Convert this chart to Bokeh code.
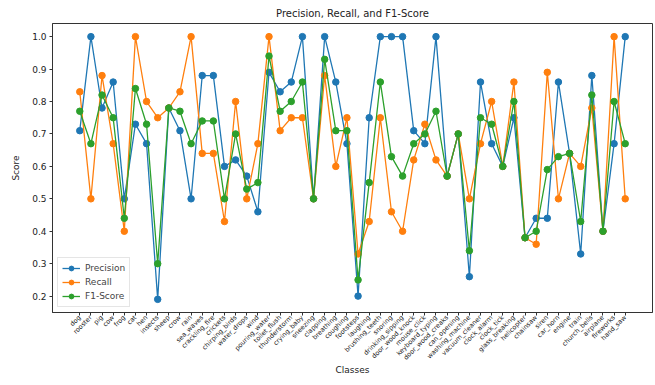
from bokeh.plotting import figure
from bokeh.models import FixedTicker, PrintfTickFormatter, Range1d, Legend, LegendItem
from bokeh.embed import file_html
from bokeh.resources import INLINE
import math

classes = ["dog", "rooster", "pig", "cow", "frog", "cat", "hen", "insects", "sheep", "crow",
           "rain", "sea_waves", "crackling_fire", "crickets", "chirping_birds", "water_drops", "wind",
           "pouring_water", "toilet_flush", "thunderstorm", "crying_baby", "sneezing", "clapping",
           "breathing", "coughing", "footsteps", "laughing", "brushing_teeth", "snoring",
           "drinking_sipping", "door_wood_knock", "mouse_click", "keyboard_typing", "door_wood_creaks",
           "can_opening", "washing_machine", "vacuum_cleaner", "clock_alarm", "clock_tick",
           "glass_breaking", "helicopter", "chainsaw", "siren", "car_horn", "engine", "train",
           "church_bells", "airplane", "fireworks", "hand_saw"]

precision = [0.71, 1.00, 0.78, 0.86, 0.50, 0.73, 0.67, 0.19, 0.78, 0.71,
             0.50, 0.88, 0.88, 0.60, 0.62, 0.57, 0.46, 0.89, 0.83, 0.86,
             1.00, 0.50, 1.00, 0.86, 0.67, 0.20, 0.75, 1.00, 1.00, 1.00,
             0.71, 0.67, 1.00, 0.57, 0.70, 0.26, 0.86, 0.67, 0.60, 0.75,
             0.38, 0.44, 0.44, 0.86, 0.64, 0.33, 0.88, 0.40, 0.67, 1.00]

recall = [0.83, 0.50, 0.88, 0.67, 0.40, 1.00, 0.80, 0.75, 0.78, 0.83,
          1.00, 0.64, 0.64, 0.43, 0.80, 0.50, 0.67, 1.00, 0.71, 0.75,
          0.75, 0.50, 0.88, 0.60, 0.75, 0.33, 0.43, 0.75, 0.46, 0.40,
          0.62, 0.73, 0.62, 0.57, 0.70, 0.50, 0.67, 0.80, 0.60, 0.86,
          0.38, 0.36, 0.89, 0.50, 0.64, 0.60, 0.78, 0.40, 1.00, 0.50]

f1 = [0.77, 0.67, 0.82, 0.75, 0.44, 0.84, 0.73, 0.30, 0.78, 0.77,
      0.67, 0.74, 0.74, 0.50, 0.70, 0.53, 0.55, 0.94, 0.77, 0.80,
      0.86, 0.50, 0.93, 0.71, 0.71, 0.25, 0.55, 0.86, 0.63, 0.57,
      0.67, 0.70, 0.77, 0.57, 0.70, 0.34, 0.75, 0.73, 0.60, 0.80,
      0.38, 0.40, 0.59, 0.63, 0.64, 0.43, 0.82, 0.40, 0.80, 0.67]

y_ticks = [0.2, 0.3, 0.4, 0.5, 0.6, 0.7, 0.8, 0.9, 1.0]

series = [("Precision", precision, "#1f77b4"),
          ("Recall", recall, "#ff7f0e"),
          ("F1-Score", f1, "#2ca02c")]

x = list(range(len(classes)))
n = len(classes)
pad_x = 0.05 * (n - 1)
all_vals = precision + recall + f1
ymin, ymax = min(all_vals), max(all_vals)
pad_y = 0.05 * (ymax - ymin)

p = figure(width=655, height=377, output_backend="svg", toolbar_location=None,
           x_range=Range1d(-pad_x, n - 1 + pad_x),
           y_range=Range1d(ymin - pad_y, ymax + pad_y),
           min_border_left=52, min_border_right=3, min_border_top=16, min_border_bottom=0,
           title="Precision, Recall, and F1-Score")

p.title.align = "center"
p.title.text_font = "DejaVu Sans"
p.title.text_font_size = "10px"
p.title.text_font_style = "normal"
p.title.text_color = "#222222"

items = []
for name, vals, col in series:
    r1 = p.line(x, vals, line_color=col, line_width=1.3)
    r2 = p.scatter(x, vals, size=6.5, fill_color=col, line_color=col)
    items.append(LegendItem(label=name, renderers=[r1, r2]))

legend = Legend(items=items, location="bottom_left")
legend.label_text_font = "DejaVu Sans"
legend.label_text_font_size = "9px"
legend.label_height = 12
legend.glyph_height = 12
legend.glyph_width = 18
legend.spacing = 2
legend.padding = 4
legend.margin = 5
legend.border_line_color = "#cccccc"
legend.background_fill_alpha = 0.8
p.add_layout(legend)

p.grid.visible = False
p.outline_line_color = "#333333"
p.outline_line_width = 1

p.xaxis.ticker = FixedTicker(ticks=x)
p.xaxis.major_label_overrides = {i: c for i, c in enumerate(classes)}
p.xaxis.major_label_orientation = math.pi / 4
p.xaxis.major_label_text_font_size = "6.5px"
p.xaxis.axis_label = "Classes"

p.yaxis.ticker = FixedTicker(ticks=y_ticks)
p.yaxis.formatter = PrintfTickFormatter(format="%.1f")
p.yaxis.major_label_text_font_size = "9px"
p.yaxis.axis_label = "Score"

for ax in (p.xaxis[0], p.yaxis[0]):
    ax.major_label_text_font = "DejaVu Sans"
    ax.major_label_text_color = "#222222"
    ax.axis_label_text_font = "DejaVu Sans"
    ax.axis_label_text_font_size = "9px"
    ax.axis_label_text_font_style = "normal"
    ax.axis_label_text_color = "#222222"
    ax.minor_tick_line_color = None
    ax.major_tick_in = 0
    ax.major_tick_out = 3
    ax.axis_line_color = "#333333"
    ax.major_tick_line_color = "#333333"
    ax.major_label_standoff = 3

p.xaxis.major_label_standoff = 1
p.xaxis.axis_label_standoff = -3
p.xaxis.axis_label_text_baseline = "top"
p.yaxis.axis_label_standoff = 8

open("out.html", "w").write(file_html(p, INLINE))
